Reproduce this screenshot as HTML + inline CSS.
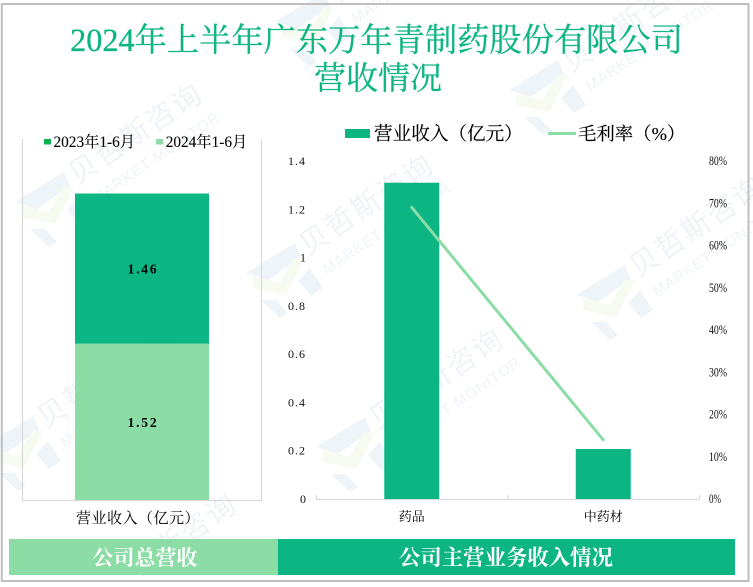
<!DOCTYPE html>
<html lang="zh">
<head>
<meta charset="utf-8">
<title>2024年上半年广东万年青制药股份有限公司营收情况</title>
<style>
html,body{margin:0;padding:0;background:#fff;width:753px;height:587px;overflow:hidden}
svg{display:block;overflow:hidden;font-family:"Liberation Serif","Noto Serif CJK SC",serif}
</style>
</head>
<body>
<svg id="chart" xmlns="http://www.w3.org/2000/svg" width="753" height="587" viewBox="0 0 753 587">
  <rect x="0" y="0" width="753" height="587" fill="#ffffff"/>
  <g id="watermarks"></g>
  <rect x="1.8" y="4" width="746.7" height="577" fill="none" stroke="#bfbfbf" stroke-width="2"/>
  <text x="376.5" y="51" font-size="32.25" fill="#0db582" stroke="#0db582" stroke-width="0.3" text-anchor="middle">2024年上半年广东万年青制药股份有限公司</text>
  <text x="378" y="89" font-size="32" fill="#0db582" stroke="#0db582" stroke-width="0.3" text-anchor="middle">营收情况</text>

  <g id="left-chart"></g>
  <g id="right-chart"></g>

  <g>
    <rect x="44" y="139" width="7" height="5.5" fill="#0db14f"/>
    <text x="53.5" y="147" font-size="15.3" fill="#000" stroke="#000" stroke-width="0.1">2023年1-6月</text>
    <rect x="156" y="139" width="7" height="5.5" fill="#8bdca5"/>
    <text x="165.7" y="147" font-size="15.3" fill="#000" stroke="#000" stroke-width="0.1">2024年1-6月</text>
  </g>
  <g>
    <rect x="345" y="129" width="25" height="9" fill="#0db582"/>
    <text x="374" y="140" font-size="18.6" fill="#000" stroke="#000" stroke-width="0.15">营业收入（亿元）</text>
    <rect x="548" y="132" width="28" height="3" fill="#8bdca5"/>
    <text x="578" y="140" font-size="18.4" fill="#000" stroke="#000" stroke-width="0.15">毛利率（%）</text>
  </g>

  <rect x="9" y="539" width="269" height="36" fill="#8bdca5"/>
  <rect x="278" y="539" width="457" height="36" fill="#0db582"/>
  <text x="145" y="565" font-size="21" font-weight="700" fill="#ffffff" text-anchor="middle">公司总营收</text>
  <text x="506" y="565" font-size="21.4" font-weight="700" fill="#ffffff" text-anchor="middle">公司主营业务收入情况</text>
</svg>
<script>
var stackCategory = ['营业收入（亿元）'];
var stackSeries2024 = [1.52];
var stackSeries2023 = [1.46];

var mainCategories = ['药品', '中药材'];
var mainRevenue = [1.31, 0.207];
var mainMargin = [69, 14];
var revenueTicks = ['0', '0.2', '0.4', '0.6', '0.8', '1', '1.2', '1.4'];
var marginTicks = ['0%', '10%', '20%', '30%', '40%', '50%', '60%', '70%', '80%'];

var NS = 'http://www.w3.org/2000/svg';
function make(parent, tag, attrs, txt) {
  var el = document.createElementNS(NS, tag);
  for (var k in attrs) el.setAttribute(k, attrs[k]);
  if (txt !== undefined) el.textContent = txt;
  parent.appendChild(el);
  return el;
}

/* ---------- watermark ---------- */
var wmLayer = document.getElementById('watermarks');
var wmSpots = [[52,207],[312,27],[546,95],[283,278],[613,300],[21,451],[353,452]];
var wmFont = '"Liberation Sans","Noto Sans CJK SC",sans-serif';
wmSpots.forEach(function (p) {
  var g = make(wmLayer, 'g', {transform: 'translate(' + p[0] + ',' + p[1] + ')'});
  
  
  make(g, 'polygon', {points: '-37,-5 12,-35 18,-21 -15,2', fill: '#eff4f9'});
  make(g, 'polygon', {points: '27,-10 40,10 28,18 15,3', fill: '#eff4f9'});
  make(g, 'polygon', {points: '-22,22 -3,40 5,35 -7,22', fill: '#eff4f9'});
  make(g, 'polygon', {points: '-30,10 3,17 22,-20 11,-20 -3,5 -30,-2', fill: '#f6faf0'});
  make(g, 'text', {x: 0, y: 0, transform: 'translate(25,-22) rotate(-34)', 'font-size': 29, fill: '#eff3f8',
    'font-family': wmFont, 'letter-spacing': '2'}, '贝哲斯咨询');
  make(g, 'text', {x: 0, y: 0, transform: 'translate(44,-3) rotate(-34)', 'font-size': 15, fill: '#eff3f8',
    'font-family': wmFont, 'letter-spacing': '1'}, 'MARKET MONITOR');
});
var wmCut = make(wmLayer, 'text', {x: 0, y: 0, transform: 'translate(137,578) rotate(-34)', 'font-size': 29, fill: '#eff3f8',
  'font-family': wmFont, 'letter-spacing': '2'}, '哲斯咨询');



/* ---------- left stacked chart ---------- */
var L = {x0: 22, x1: 261, y0: 500, y1: 139, max: 3.51};
function lY(v) { return L.y0 - (v / L.max) * (L.y0 - L.y1); }
var leftG = document.getElementById('left-chart');
var frameLeft = make(leftG, 'path', {d: 'M' + (L.x0 + .5) + ' ' + L.y1 + 'V' + (L.y0 + .5) + 'H' + (L.x1 + .5) + 'V' + L.y1, fill: 'none', stroke: '#d9d9d9', 'stroke-width': 1.2});


var lBand = (L.x1 - L.x0) / stackCategory.length;
var lBarW = 134;
stackCategory.forEach(function (c, i) {
  var cx = L.x0 + lBand * (i + .5) + 0.5;
  var a = stackSeries2024[i], b = stackSeries2023[i];
  var r1 = make(leftG, 'rect', {x: cx - lBarW / 2, y: lY(a), width: lBarW, height: L.y0 - lY(a), fill: '#8bdca5'});
  
  
  var r2 = make(leftG, 'rect', {x: cx - lBarW / 2, y: lY(a + b), width: lBarW, height: lY(a) - lY(a + b), fill: '#0db582'});
  
  
  var t1 = make(leftG, 'text', {x: cx + 1, y: lY(a / 2), dy: 5, 'text-anchor': 'middle', 'font-size': 13.5, 'font-weight': 700, 'letter-spacing': 1.8, fill: '#000'}, a.toFixed(2));
  
  
  var t2 = make(leftG, 'text', {x: cx + 1, y: lY(a + b / 2), dy: 5, 'text-anchor': 'middle', 'font-size': 13.5, 'font-weight': 700, 'letter-spacing': 1.8, fill: '#000'}, b.toFixed(2));
  
  
  var t3 = make(leftG, 'text', {x: cx - 4, y: 523, 'text-anchor': 'middle', 'font-size': 15, 'letter-spacing': 0.5, fill: '#000'}, c);
  
  
});

/* ---------- right combo chart ---------- */
var R = {x0: 316, x1: 699, y0: 499, y1: 161, maxL: 1.4, maxR: 80};
function rY(v) { return R.y0 - (v / R.maxL) * (R.y0 - R.y1); }
function pY(v) { return R.y0 - (v / R.maxR) * (R.y0 - R.y1); }
var rBand = (R.x1 - R.x0) / mainCategories.length;
function rX(i) { return R.x0 + rBand * (i + .5); }
var rightG = document.getElementById('right-chart');
var xAxis = make(rightG, 'line', {x1: R.x0, x2: R.x1, y1: R.y0 + .5, y2: R.y0 + .5, stroke: '#d9d9d9', 'stroke-width': 1.2});


for (var ti = 0; ti <= mainCategories.length; ti++) {
  var tk = make(rightG, 'line', {x1: R.x0 + rBand * ti + .5, x2: R.x0 + rBand * ti + .5, y1: R.y0 - 4, y2: R.y0, stroke: '#d9d9d9'});
  
  
}
mainCategories.forEach(function (c, i) {
  var b = make(rightG, 'rect', {x: rX(i) - 27.5, y: rY(mainRevenue[i]), width: 55, height: R.y0 - rY(mainRevenue[i]), fill: '#0db582'});
  
  
  var t = make(rightG, 'text', {x: rX(i), y: 521, 'text-anchor': 'middle', 'font-size': 13, fill: '#000'}, c);
  
  
});
var pts = mainMargin.map(function (v, i) { return rX(i) + ',' + pY(v); }).join(' ');
var ln = make(rightG, 'polyline', {points: pts, fill: 'none', stroke: '#8bdca5', 'stroke-width': 3, 'stroke-linecap': 'round'});


revenueTicks.forEach(function (s) {
  var y = rY(parseFloat(s));
  var t = make(rightG, 'text', {x: 306, y: y + 4, 'text-anchor': 'end', 'font-size': 12, 'letter-spacing': s.length > 1 ? 1 : 0, fill: '#111'}, s);
  
  
});
marginTicks.forEach(function (s) {
  var y = pY(parseFloat(s));
  var t = make(rightG, 'text', {x: 709, y: y + 4, 'font-size': 12.5, textLength: s.length > 2 ? 18 : 12, lengthAdjust: 'spacingAndGlyphs', fill: '#111'}, s);
  
  
});
</script>
</body>
</html>
